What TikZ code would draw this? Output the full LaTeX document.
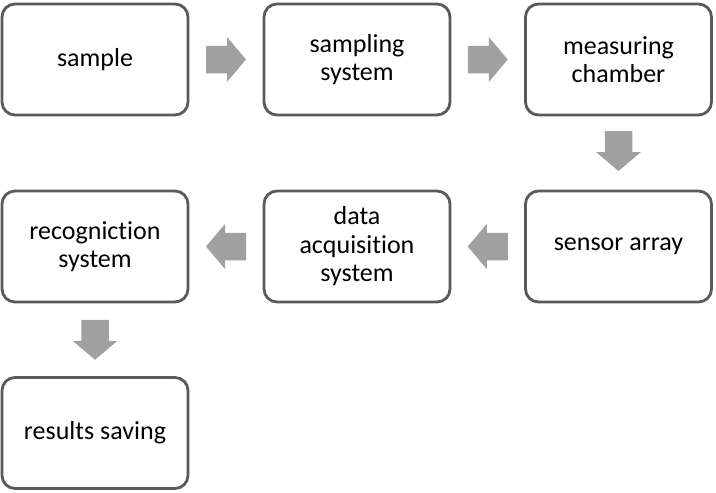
\documentclass[tikz,border=0pt]{standalone}
\usepackage{fontspec}
\setmainfont[Ligatures={NoCommon}]{Carlito}
\usetikzlibrary{calc}
\definecolor{boxline}{HTML}{5A5A5A}
\definecolor{arrowgray}{HTML}{A0A0A0}
\begin{document}
\begin{tikzpicture}[x=1pt,y=-1pt,
  stage/.style={draw=boxline, line width=2.8pt, rounded corners=13pt, fill=white,
    minimum width=186pt, minimum height=111pt, align=center, inner sep=2pt,
    font=\fontsize{26}{28.5}\selectfont},
  blockarrow/.pic={\fill[arrowgray] (-20,-13.75) -- (1,-13.75) -- (1,-22.5) -- (20,0) -- (1,22.5) -- (1,13.75) -- (-20,13.75) -- cycle;}]
\useasboundingbox (0,0) rectangle (716,493);
\node[stage] (sample) at (95,59.5) {sample};
\node[stage] (sampling) at (357,59.5) {sampling\\system};
\node[stage] (chamber) at (618.5,59.5) {measuring\\chamber};
\node[stage] (sensor) at (618.5,246.5) {sensor array};
\node[stage] (daq) at (357,246.5) {data\\acquisition\\system};
\node[stage] (recog) at (95,246.5) {recogniction\\system};
\node[stage] (results) at (95,433) {results saving};
\path ($(sample.east)!0.5!(sampling.west)$) pic {blockarrow};
\path ($(sampling.east)!0.5!(chamber.west)$) pic {blockarrow};
\path ($(chamber.south)!0.5!(sensor.north)+(0,-2)$) pic[rotate=-90] {blockarrow};
\path ($(sensor.west)!0.5!(daq.east)$) pic[rotate=180] {blockarrow};
\path ($(daq.west)!0.5!(recog.east)$) pic[rotate=180] {blockarrow};
\path ($(recog.south)!0.5!(results.north)$) pic[rotate=-90] {blockarrow};
\end{tikzpicture}
\end{document}
